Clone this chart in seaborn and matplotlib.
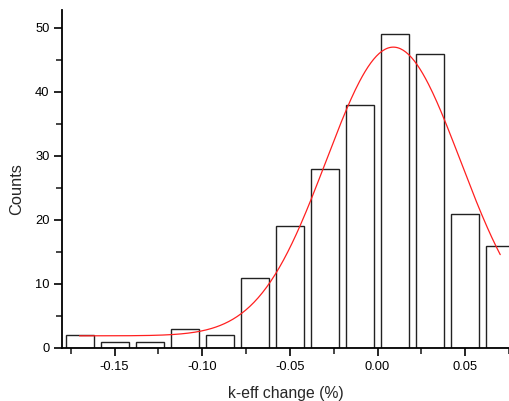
import numpy as np
import pandas as pd
import matplotlib
matplotlib.use("Agg")
import matplotlib.pyplot as plt
from matplotlib.ticker import MultipleLocator
import seaborn as sns

# Histogram data (bin centers in %, counts)
bin_centers = [-0.17, -0.15, -0.13, -0.11, -0.09, -0.07, -0.05, -0.03, -0.01, 0.01, 0.03, 0.05, 0.07]
counts = [2, 1, 1, 3, 2, 11, 19, 28, 38, 49, 46, 21, 16]
bin_width = 0.02

# Gaussian fit parameters
fit_y0 = 1.9
fit_amp = 45.1
fit_xc = 0.009
fit_sigma = 0.0383
fit_range = [-0.17, 0.07]

x_ticks = [-0.15, -0.10, -0.05, 0.00, 0.05]
y_ticks = [0, 10, 20, 30, 40, 50]

sns.set_style("ticks")
plt.rcParams['font.family'] = ['Liberation Sans', 'DejaVu Sans']

fig = plt.figure(figsize=(5.09, 4.01), dpi=100)
ax = fig.add_axes([62/509, 53/401, 447/509, 338/401])

df = pd.DataFrame({"x": bin_centers, "n": counts})
lo = bin_centers[0] - bin_width / 2
hi = bin_centers[-1] + bin_width / 2
sns.histplot(data=df, x="x", weights="n", binwidth=bin_width, binrange=(lo, hi),
             shrink=0.8, fill=False, color="#222222", linewidth=1.0, ax=ax)

xs = np.linspace(fit_range[0], fit_range[1], 300)
ys = fit_y0 + fit_amp * np.exp(-(xs - fit_xc) ** 2 / (2 * fit_sigma ** 2))
sns.lineplot(x=xs, y=ys, color="#ff2020", linewidth=0.9, ax=ax)

ax.set_xlim(-0.18, 0.075)
ax.set_ylim(0, 52.8)
ax.set_xticks(x_ticks)
ax.set_xticklabels([f"{t:.2f}" for t in x_ticks])
ax.set_yticks(y_ticks)
ax.xaxis.set_minor_locator(MultipleLocator(0.025))
ax.yaxis.set_minor_locator(MultipleLocator(5))

for s in ["top", "right"]:
    ax.spines[s].set_visible(False)
for s in ["left", "bottom"]:
    ax.spines[s].set_linewidth(1.3)
    ax.spines[s].set_color("black")

ax.tick_params(which="major", length=6, width=1.2, labelsize=9.3, colors="black", pad=3)
ax.tick_params(which="minor", length=4, width=1.2)
ax.set_xlabel("k-eff change (%)", fontsize=11.3, labelpad=10)
ax.set_ylabel("Counts", fontsize=11.8, labelpad=8)
ax.yaxis.set_label_coords(-0.085, 0.469)

fig.savefig("out.png", dpi=100)
